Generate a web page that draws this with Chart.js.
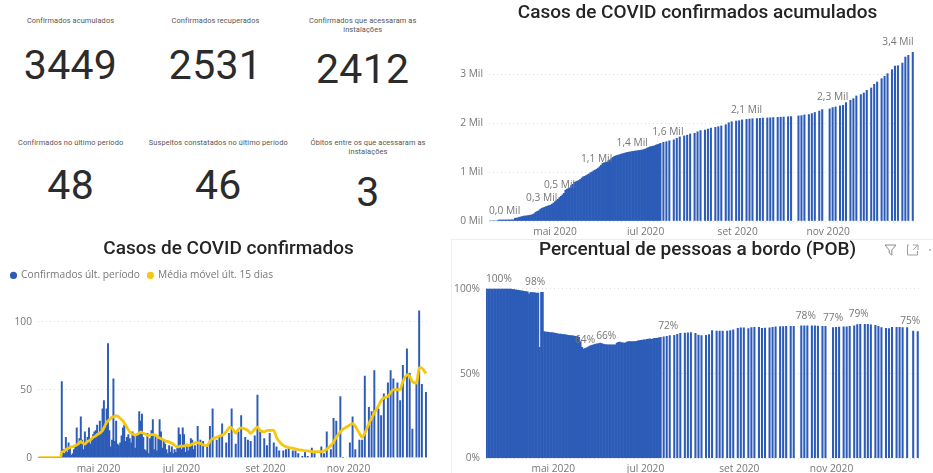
<!DOCTYPE html>
<html lang="pt-BR">
<head>
<meta charset="utf-8">
<title>Painel COVID</title>
<script src="https://cdn.jsdelivr.net/npm/chart.js@4"></script>
<style>
  html, body { margin: 0; padding: 0; background: #fff; }
  #painel { position: relative; width: 933px; height: 473px; overflow: hidden; font-family: Roboto, sans-serif; }
  canvas { position: absolute; }
  .kpi-titulo, .kpi-valor { position: absolute; width: 160px; margin-left: -80px; text-align: center; }
  .kpi-titulo { font-size: 7.4px; line-height: 9.5px; color: #555; letter-spacing: .1px; }
  .kpi-valor { font-size: 41px; line-height: 42px; color: #2b2b2b; letter-spacing: .3px; }
  #moldura { position: absolute; left: 451px; top: 239px; width: 482px; height: 234px; border-top: 1px solid #eee; border-left: 1px solid #eee; box-sizing: border-box; }
  #icones { position: absolute; left: 882px; top: 243px; }
</style>
</head>
<body>
<div id="painel">
  <div id="moldura"></div>
  <canvas id="acumuladoChart" width="483" height="235" style="left:450px;top:0"></canvas>
  <canvas id="confirmadosChart" width="447" height="235" style="left:3px;top:238px"></canvas>
  <canvas id="pobChart" width="482" height="234" style="left:451px;top:239px"></canvas>
  <svg id="icones" width="51" height="14" viewBox="0 0 51 14">
    <path d="M3 2h11l-4.2 5v5l-2.6-2V7z" fill="none" stroke="#8a8a8a"/>
    <path d="M27 2h-1.5v10h10V8M31 2h5v5M36 2l-5 5" fill="none" stroke="#a0a0a0"/>
    <circle cx="48" cy="7" r=".8" fill="#777"/>
  </svg>
</div>

<script>
// dias contados a partir de 18/03/2020
const dias = [
  0,1,2,3,4,5,6,7,8,9,10,11,12,13,14,15,16,17,18,19,20,21,22,23,24,25,26,27,28,29,
  30,31,32,33,34,35,36,37,38,39,40,41,42,43,44,45,46,47,48,49,50,51,52,53,54,55,56,57,58,59,
  60,61,62,63,64,65,66,67,68,69,70,71,72,73,74,75,76,77,78,79,80,81,82,83,84,85,86,87,88,89,
  90,91,92,93,94,95,96,97,98,99,100,101,102,103,104,105,106,107,108,109,110,111,112,113,114,115,
  117,119,121,124,126,128,131,133,135,138,140,142,145,147,149,152,154,156,159,161,163,166,168,170,
  173,175,177,180,182,184,187,189,191,194,196,198,201,203,208,210,212,215,217,219,222,224,
  229,231,233,236,238,240,243,245,247,250,252,254,257,259,261,264,266,268,271,273,275,278,280,282,285
];

const xTicks = [44, 105, 167, 228];
const xRotulos = ['mai 2020', 'jul 2020', 'set 2020', 'nov 2020'];

const acumulados = [
  0,0,0,0,0,0,20,20,20,20,21,21,22,22,23,23,24,54,60,63,78,82,93,100,103,106,112,118,122,135,
  150,180,195,210,235,258,270,282,294,305,316,326,345,370,395,420,445,480,505,535,565,630,650,665,680,730,750,790,803,815,
  830,850,880,905,915,930,950,965,990,1005,1027,1040,1060,1080,1110,1140,1177,1190,1197,1205,1235,1250,1275,1300,1325,1332,1345,1350,1362,1372,
  1380,1388,1398,1405,1410,1414,1422,1426,1432,1435,1440,1444,1449,1455,1465,1475,1490,1505,1517,1525,1530,1538,1552,1565,1572,1590,
  1610,1622,1640,1660,1690,1720,1740,1755,1780,1795,1825,1850,1860,1880,1900,1915,1928,1945,1970,2010,2030,2045,2052,2068,
  2078,2086,2092,2095,2100,2105,2108,2112,2116,2120,2124,2127,2132,2136,2150,2155,2170,2178,2197,2220,2250,2279,
  2293,2320,2333,2354,2367,2422,2469,2503,2558,2585,2619,2673,2721,2796,2843,2912,2959,3014,3095,3170,3177,3231,3354,3388,3449
];
const acumuladosTicks = [0, 1000, 2000, 3000];
const acumuladosRotuloDia = [10, 35, 47, 72, 96, 120, 173, 231, 275];
const acumuladosRotuloValor = [0, 260, 520, 1060, 1390, 1610, 2060, 2330, 3449];
const acumuladosRotuloTexto = ['0,0 Mil', '0,3 Mil', '0,5 Mil', '1,1 Mil', '1,4 Mil', '1,6 Mil', '2,1 Mil', '2,3 Mil', '3,4 Mil'];

const confirmados = [
  0,0,0,0,0,0,0,0,0,0,0,0,0,0,0,0,0,56,6,3,15,4,11,8,2,3,6,8,22,9,
  14,30,13,6,19,11,15,22,10,13,17,19,20,24,18,27,20,36,42,22,36,84,20,8,13,58,12,27,10,9,
  11,16,22,24,12,15,17,14,11,19,16,7,16,17,34,27,32,15,6,5,18,3,14,20,28,6,16,5,14,28,
  19,7,12,10,6,3,9,4,8,3,6,4,7,22,17,6,22,17,4,10,5,8,14,13,6,9,
  23,13,12,8,23,36,13,15,25,11,18,36,10,19,31,15,13,12,16,46,19,14,9,18,
  11,8,5,5,6,7,5,5,3,1,4,1,7,3,8,3,19,6,29,27,45,0,
  11,30,6,13,13,60,37,34,64,36,31,47,55,64,58,55,42,68,80,62,21,54,108,54,48
];
const mediaMovel = [
  0,0,0,0,0,0,0,0,0,0,0,0,0,0,0,0,0,4,4.5,5,6,6.5,7,7.5,8,8,8.5,9,9.5,10,
  11,12,11,10.5,10,11,12,12.5,13,14,15,15.5,16,17,17.5,18,19,20,22,24,26,27,28,29,30,30,30.5,31,30.5,30,
  29,28,27,25.5,24,22,20.5,19,18,17.5,17,16.5,17,17.5,18,19,18.5,18,17.5,17,16.5,16.5,16.5,17,17,17,16.5,16,15,14.5,
  14,13.5,13,12.5,12,12,11.5,11,10.5,10,9,8.5,8,8,8.5,8.5,8.5,8.5,9,9,9,9,9.5,10,10.5,11,
  11,10.5,9.5,9,12,14,15,16,16.5,19,22,22,18,21,22,21,20,18,21,22.5,20,19,20,20,
  20,15,12,9,8,7.5,7,6.5,6,5.5,5,5,4.5,4.5,4.5,5,6.3,9,11.6,15,19,21,
  24,25,23,18,15,18,25,29,33,38,42,44,45,48,50,50,50,56,61,60,56,55,66,66,62
];
const confirmadosTicks = [0, 50, 100];

const pob = [
  100,100,100,100,100,100,100,100,100,100,100,100,100,100,100,100,100,99.8,99.6,99.5,99.4,99.2,99,98.9,98.7,98.6,98.4,98.3,97.2,98,
  97.9,97.8,97.7,97.6,97.5,65.6,98,98,74.8,74.6,74.5,74.4,74.3,74.2,74.1,74,73.8,73.5,73.4,73.3,73.2,73.1,73,72.8,72.6,72.5,72.4,72.3,72.2,72.1,
  72,71.5,69,65.5,64.6,64.8,65.3,65.7,66.3,66.6,66.9,67.2,67.4,67.6,67.8,68,67.8,67.5,67.2,67.1,67,67,67,67,67,67,68,68.5,68.6,68.3,
  68.2,68,68.4,68.8,69,69,69,69,69,69.1,69.3,69.5,69.6,69.8,69.9,70,70.2,70.4,70.5,70.3,70.6,70.8,70.9,71,71.2,71.5,
  71.8,72,72.4,72.6,73.2,73.8,74,74.1,74.2,73.8,72.8,72.4,72.6,73,75.4,75.2,75.2,75.2,75.2,75.4,75.8,76.8,77,77,
  76.6,77.2,77.4,77.4,76.8,76.9,77,77.3,77.6,77.8,77.8,77.9,78,78,78.2,78.3,78.3,78.2,78.2,78.1,78,78,
  77.2,77.4,77.5,77.6,77.6,78,78.3,79,79.1,79.1,79.1,78.8,78.5,78,77.2,76.8,76.6,77.4,77.4,77.3,77.2,77.2,null,75.2,74.8
];
const pobTicks = [0, 50, 100];
const pobRotuloDia = [8, 32, 65, 79, 120, 211, 229, 246, 280];
const pobRotuloValor = [100, 98, 64, 66, 72, 78, 77, 79, 75];
const pobRotuloTexto = ['100%', '98%', '64%', '66%', '72%', '78%', '77%', '79%', '75%'];

const kpiTitulos = [
  'Confirmados acumulados', 'Confirmados recuperados', 'Confirmados que acessaram as<br>instalações',
  'Confirmados no último período', 'Suspeitos constatados no último período', 'Óbitos entre os que acessaram as<br>instalações'
];
const kpiValores = ['3449', '2531', '2412', '48', '46', '3'];

const AZUL = '#2c5cb8';
const AMARELO = '#f5c70f';
const TEXTO_EIXO = '#777';
const FONTE_EIXO = 'Open Sans';

function renderKpis() {
  const painel = document.getElementById('painel');
  const colTitulo = [70.5, 215.5, 362.7, 70.7, 218.3, 368];
  const linhaTitulo = [15.5, 15.5, 15.5, 137.5, 137.5, 137.5];
  const linhaValor = [44, 44, 48, 164, 164, 171];
  kpiTitulos.forEach((titulo, i) => {
    const t = document.createElement('div');
    t.className = 'kpi-titulo';
    t.innerHTML = titulo;
    t.style.left = colTitulo[i] + 'px';
    t.style.top = linhaTitulo[i] + 'px';
    painel.appendChild(t);

    const v = document.createElement('div');
    v.className = 'kpi-valor';
    v.textContent = kpiValores[i];
    v.style.left = colTitulo[i] + 'px';
    v.style.top = linhaValor[i] + 'px';
    painel.appendChild(v);
  });
}

function serie(valores) {
  return valores.map((v, i) => ({ x: dias[i], y: v }));
}

// Rótulos de dados desenhados sobre as barras
function pluginRotulos(rotDias, rotValores, rotTextos) {
  return {
    id: 'rotulos',
    afterDatasetsDraw(chart) {
      const { ctx, scales } = chart;
      ctx.save();
      ctx.font = '10.2px "' + FONTE_EIXO + '"';
      ctx.fillStyle = TEXTO_EIXO;
      ctx.textAlign = 'center';
      ctx.textBaseline = 'middle';
      rotTextos.forEach((texto, i) => {
        ctx.fillText(texto, scales.x.getPixelForValue(rotDias[i]), scales.y.getPixelForValue(rotValores[i]) - 10);
      });
      ctx.restore();
    }
  };
}

// Título do Power BI não fica centrado no canvas
function pluginTitulo(desloc) {
  return {
    id: 'tituloDesloc',
    afterLayout(chart) {
      chart.titleBlock.left += desloc;
      chart.titleBlock.right += desloc;
    }
  };
}

function opcoes({ titulo, tituloPadding, larguraY, alturaX, direita, maxY, yTicks, formato, legenda }) {
  return {
    responsive: false,
    animation: false,
    layout: { padding: { left: 0, right: direita, top: 0, bottom: 0 } },
    plugins: {
      title: {
        display: true,
        text: titulo,
        color: '#252423',
        font: { family: 'Roboto', size: 19, weight: '500', lineHeight: 1.2 },
        padding: tituloPadding
      },
      legend: legenda,
      tooltip: { enabled: false }
    },
    scales: {
      x: {
        type: 'linear',
        offset: false,
        min: -0.5,
        max: 286.5,
        afterBuildTicks: axis => { axis.ticks = xTicks.map(v => ({ value: v })); },
        afterFit: axis => { axis.height = alturaX; },
        grid: { display: false, drawTicks: false },
        border: { display: false },
        ticks: {
          callback: v => xRotulos[xTicks.indexOf(v)],
          autoSkip: false,
          maxRotation: 0,
          padding: 5,
          color: TEXTO_EIXO,
          font: { family: FONTE_EIXO, size: 10.2 }
        }
      },
      y: {
        min: 0,
        max: maxY,
        afterBuildTicks: axis => { axis.ticks = yTicks.map(v => ({ value: v })); },
        afterFit: axis => { axis.width = larguraY; },
        grid: { color: '#dedede', drawTicks: false },
        border: { display: false, dash: [1, 3] },
        ticks: {
          padding: 6,
          callback: formato,
          color: TEXTO_EIXO,
          font: { family: FONTE_EIXO, size: 10.2 }
        }
      }
    }
  };
}

function renderAcumulado() {
  const ctx = document.getElementById('acumuladoChart').getContext('2d');
  new Chart(ctx, {
    type: 'bar',
    data: {
      datasets: [{
        label: 'Confirmados acumulados',
        data: serie(acumulados),
        backgroundColor: AZUL,
        barThickness: 1.4
      }]
    },
    options: opcoes({
      titulo: 'Casos de COVID confirmados acumulados',
      tituloPadding: { top: 2, bottom: 20.2 },
      larguraY: 39,
      alturaX: 14,
      direita: 18,
      maxY: 3600,
      yTicks: acumuladosTicks,
      formato: v => (v / 1000) + ' Mil',
      legenda: { display: false }
    }),
    plugins: [pluginRotulos(acumuladosRotuloDia, acumuladosRotuloValor, acumuladosRotuloTexto), pluginTitulo(15)]
  });
}

function renderConfirmados() {
  const ctx = document.getElementById('confirmadosChart').getContext('2d');
  new Chart(ctx, {
    type: 'bar',
    data: {
      datasets: [
        {
          type: 'line',
          label: 'Média móvel últ. 15 dias',
          data: serie(mediaMovel),
          borderColor: AMARELO,
          backgroundColor: AMARELO,
          borderWidth: 2.8,
          pointRadius: 0,
          tension: 0.3,
          order: 1
        },
        {
          label: 'Confirmados últ. período',
          data: serie(confirmados),
          backgroundColor: AZUL,
          barThickness: 1.3,
          order: 2
        }
      ]
    },
    options: opcoes({
      titulo: 'Casos de COVID confirmados',
      tituloPadding: { top: 0, bottom: 1.5 },
      larguraY: 35,
      alturaX: 15.3,
      direita: 22,
      maxY: 123,
      yTicks: confirmadosTicks,
      formato: v => v,
      legenda: {
        display: true,
        align: 'start',
        reverse: true,
        labels: {
          usePointStyle: true,
          pointStyle: 'circle',
          boxWidth: 5,
          boxHeight: 5,
          padding: 8,
          color: TEXTO_EIXO,
          font: { family: FONTE_EIXO, size: 10.2 },
          // sem contorno, senão a bolinha da linha fica maior
          generateLabels: chart => Chart.defaults.plugins.legend.labels.generateLabels(chart).map(l => ({ ...l, lineWidth: 0 }))
        }
      }
    }),
    plugins: [pluginTitulo(13)]
  });
}

function renderPob() {
  const ctx = document.getElementById('pobChart').getContext('2d');
  new Chart(ctx, {
    type: 'bar',
    data: {
      datasets: [{
        label: 'Percentual de pessoas a bordo',
        data: serie(pob),
        backgroundColor: AZUL,
        barThickness: 1.4
      }]
    },
    options: opcoes({
      titulo: 'Percentual de pessoas a bordo (POB)',
      tituloPadding: { top: 0, bottom: 18.7 },
      larguraY: 35,
      alturaX: 14.7,
      direita: 13,
      maxY: 105,
      yTicks: pobTicks,
      formato: v => v + '%',
      legenda: { display: false }
    }),
    plugins: [pluginRotulos(pobRotuloDia, pobRotuloValor, pobRotuloTexto), pluginTitulo(12)]
  });
}

renderKpis();
renderAcumulado();
renderConfirmados();
renderPob();
</script>
</body>
</html>
